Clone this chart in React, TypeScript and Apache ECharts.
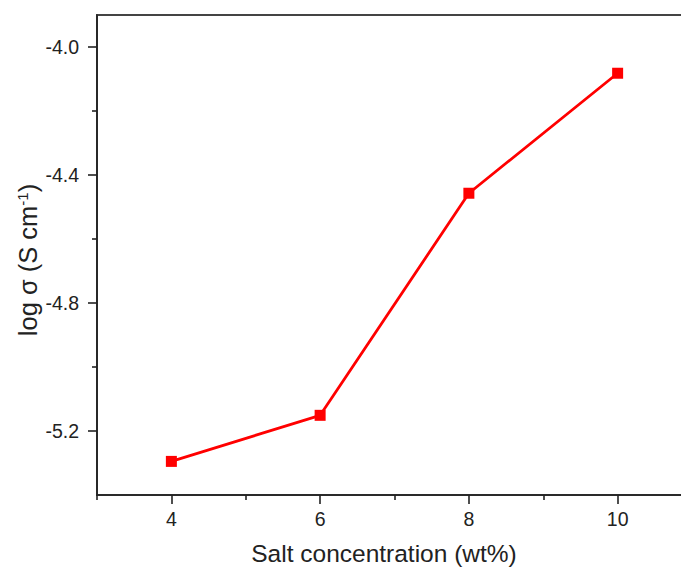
import React, { useEffect, useRef } from "react";
import * as echarts from "echarts";

// Salt concentration (wt%) and measured ionic conductivity, log σ (S cm^-1)
const saltConcentration = [4, 6, 8, 10];
const logConductivity = [-5.295, -5.151, -4.457, -4.082];

// Axis ticks: labelled (major) and unlabelled (minor)
const xMajorTicks = [4, 6, 8, 10];
const xMinorTicks = [3, 5, 7, 9];
const yMajorTicks = [-5.2, -4.8, -4.4, -4.0];
const yMinorTicks = [-5.0, -4.6, -4.2];

const FONT = "'Liberation Sans', Arial, sans-serif";
const AXIS_COLOR = "#222";

export default function App() {
  const ref = useRef<HTMLDivElement>(null);

  useEffect(() => {
    if (!ref.current) return;
    const chart = echarts.init(ref.current, undefined, { renderer: "svg" });

    const axisLine = { show: true, onZero: false, lineStyle: { color: AXIS_COLOR, width: 1.6 } };

    chart.setOption({
      animation: false,
      backgroundColor: "#ffffff",
      grid: {
        left: 97,
        top: 15,
        bottom: 74,
        right: 0,
        containLabel: false,
        outerBoundsMode: "none",
        show: true,
        borderColor: "#444",
        borderWidth: 2,
        backgroundColor: "transparent",
      },
      xAxis: [
        {
          type: "value",
          position: "bottom",
          min: 3,
          max: 11,
          axisLine,
          splitLine: { show: false },
          axisTick: {
            show: true,
            inside: false,
            length: 9,
            customValues: xMajorTicks,
            lineStyle: { color: AXIS_COLOR, width: 1.6 },
          },
          axisLabel: {
            customValues: xMajorTicks,
            margin: 14,
            fontSize: 19.5,
            fontFamily: FONT,
            color: "#222",
          },
          name: "Salt concentration (wt%)",
          nameLocation: "middle",
          nameGap: 46,
          nameMoveOverlap: false,
          nameTextStyle: {
            fontSize: 24.5,
            fontFamily: FONT,
            color: "#222",
            padding: [0, 21, 0, 0],
          },
        },
        {
          type: "value",
          position: "bottom",
          min: 3,
          max: 11,
          axisLine: { show: false },
          splitLine: { show: false },
          axisTick: {
            show: true,
            inside: false,
            length: 5,
            customValues: xMinorTicks,
            lineStyle: { color: AXIS_COLOR, width: 1.6 },
          },
          axisLabel: { show: false },
        },
      ],
      yAxis: [
        {
          type: "value",
          position: "left",
          min: -5.4,
          max: -3.9,
          axisLine,
          splitLine: { show: false },
          axisTick: {
            show: true,
            inside: false,
            length: 9,
            customValues: yMajorTicks,
            lineStyle: { color: AXIS_COLOR, width: 1.6 },
          },
          axisLabel: {
            customValues: yMajorTicks,
            margin: 18,
            fontSize: 19.5,
            fontFamily: FONT,
            color: "#222",
            formatter: (v: number) => v.toFixed(1),
          },
          name: "log σ (S cm{sup|-1})",
          nameLocation: "middle",
          nameGap: 56,
          nameMoveOverlap: false,
          nameTextStyle: {
            fontSize: 25.5,
            fontFamily: FONT,
            color: "#222",
            padding: [0, 10, 0, 0],
            rich: {
              sup: {
                fontSize: 15,
                fontFamily: FONT,
                color: "#222",
                verticalAlign: "top",
                padding: [0, 0, 8, 0],
              },
            },
          },
        },
        {
          type: "value",
          position: "left",
          min: -5.4,
          max: -3.9,
          axisLine: { show: false },
          splitLine: { show: false },
          axisTick: {
            show: true,
            inside: false,
            length: 5,
            customValues: yMinorTicks,
            lineStyle: { color: AXIS_COLOR, width: 1.6 },
          },
          axisLabel: { show: false },
        },
      ],
      series: [
        {
          type: "line",
          xAxisIndex: 0,
          yAxisIndex: 0,
          data: saltConcentration.map((x, i) => [x, logConductivity[i]]),
          symbol: "rect",
          symbolSize: 11,
          lineStyle: { color: "#ff0000", width: 2.8 },
          itemStyle: { color: "#ff0000" },
          z: 5,
        },
      ],
    });

    return () => chart.dispose();
  }, []);

  // The plot frame runs on past the right edge of the visible area,
  // so the chart is drawn a little wider and clipped.
  return (
    <div
      style={{
        position: "fixed",
        left: 0,
        top: 0,
        width: 681,
        height: 569,
        overflow: "hidden",
        background: "#ffffff",
      }}
    >
      <div ref={ref} style={{ width: 692, height: 569 }} />
    </div>
  );
}
